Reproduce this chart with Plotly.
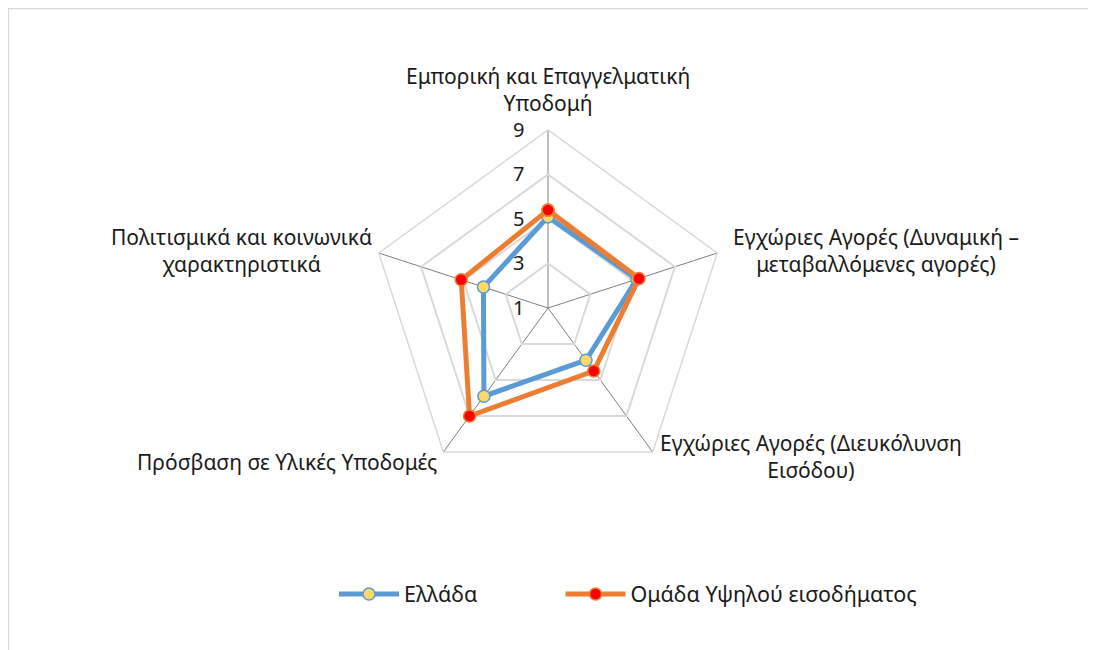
import plotly.graph_objects as go

categories = [
    "Εμπορική και Επαγγελματική<br>Υποδομή",
    "Εγχώριες Αγορές (Δυναμική –<br>μεταβαλλόμενες αγορές)",
    "Εγχώριες Αγορές (Διευκόλυνση<br>Εισόδου)",
    "Πρόσβαση σε Υλικές Υποδομές",
    "Πολιτισμικά και κοινωνικά<br>χαρακτηριστικά",
]
greece = [5.1, 5.2, 3.9, 5.9, 4.05]
high_income = [5.4, 5.3, 4.5, 7.0, 5.1]
tick_vals = [1, 3, 5, 7, 9]

# where each category label sits (paper coords), Excel style
label_pos = [(0.4927, 0.8746), (0.7920, 0.6262), (0.7327, 0.3100),
             (0.2550, 0.3015), (0.2135, 0.6269)]

fig = go.Figure()

fig.add_trace(go.Scatterpolar(
    r=greece + greece[:1],
    theta=categories + categories[:1],
    name="Ελλάδα" + "\u00a0" * 14,  # padding to space the legend like Excel
    mode="lines+markers",
    line=dict(color="#5B9BD5", width=5),
    marker=dict(size=12, color="#FFD966", line=dict(color="#5B9BD5", width=1.5)),
))
fig.add_trace(go.Scatterpolar(
    r=high_income + high_income[:1],
    theta=categories + categories[:1],
    name="Ομάδα Υψηλού εισοδήματος",
    mode="lines+markers",
    line=dict(color="#ED7D31", width=5),
    marker=dict(size=12, color="#FF0000", line=dict(color="#ED7D31", width=1.5)),
))

for cat, (px, py) in zip(categories, label_pos):
    fig.add_annotation(text=cat, x=px, y=py, xref="paper", yref="paper",
                       xanchor="center", yanchor="middle", align="center",
                       showarrow=False, font=dict(size=21, color="#1a1a1a"))

fig.update_layout(
    width=1096, height=650,
    margin=dict(l=0, r=0, t=0, b=0),
    paper_bgcolor="white",
    font=dict(family="Noto Sans", size=20, color="#1a1a1a"),
    polar=dict(
        domain=dict(x=[0.3303, 0.6551], y=[0.2646, 0.8123]),
        bgcolor="white",
        gridshape="linear",
        radialaxis=dict(
            range=[1, 9], tickvals=tick_vals, angle=90, tickangle=90,
            side="counterclockwise",
            showline=False, ticks="outside", ticklen=16, tickcolor="rgba(0,0,0,0)",
            gridcolor="#D9D9D9", gridwidth=1.5,
            tickfont=dict(size=20, color="#1a1a1a"),
        ),
        angularaxis=dict(
            direction="clockwise", rotation=90,
            gridcolor="#7F7F7F", gridwidth=1.3,
            linecolor="#D9D9D9", linewidth=1.5, ticks="",
            showticklabels=False,
        ),
    ),
    legend=dict(
        orientation="h", x=326 / 1096, xanchor="left", y=0.0985, yanchor="middle",
        font=dict(size=21.5, color="#1a1a1a"), itemwidth=60,
    ),
    shapes=[dict(
        type="rect", xref="paper", yref="paper",
        x0=0.5 / 1096, x1=1.05, y0=-0.05, y1=1 - 0.5 / 650,
        line=dict(color="#D9D9D9", width=1.3), fillcolor="rgba(0,0,0,0)",
    )],
)

fig.write_html("out.html")
